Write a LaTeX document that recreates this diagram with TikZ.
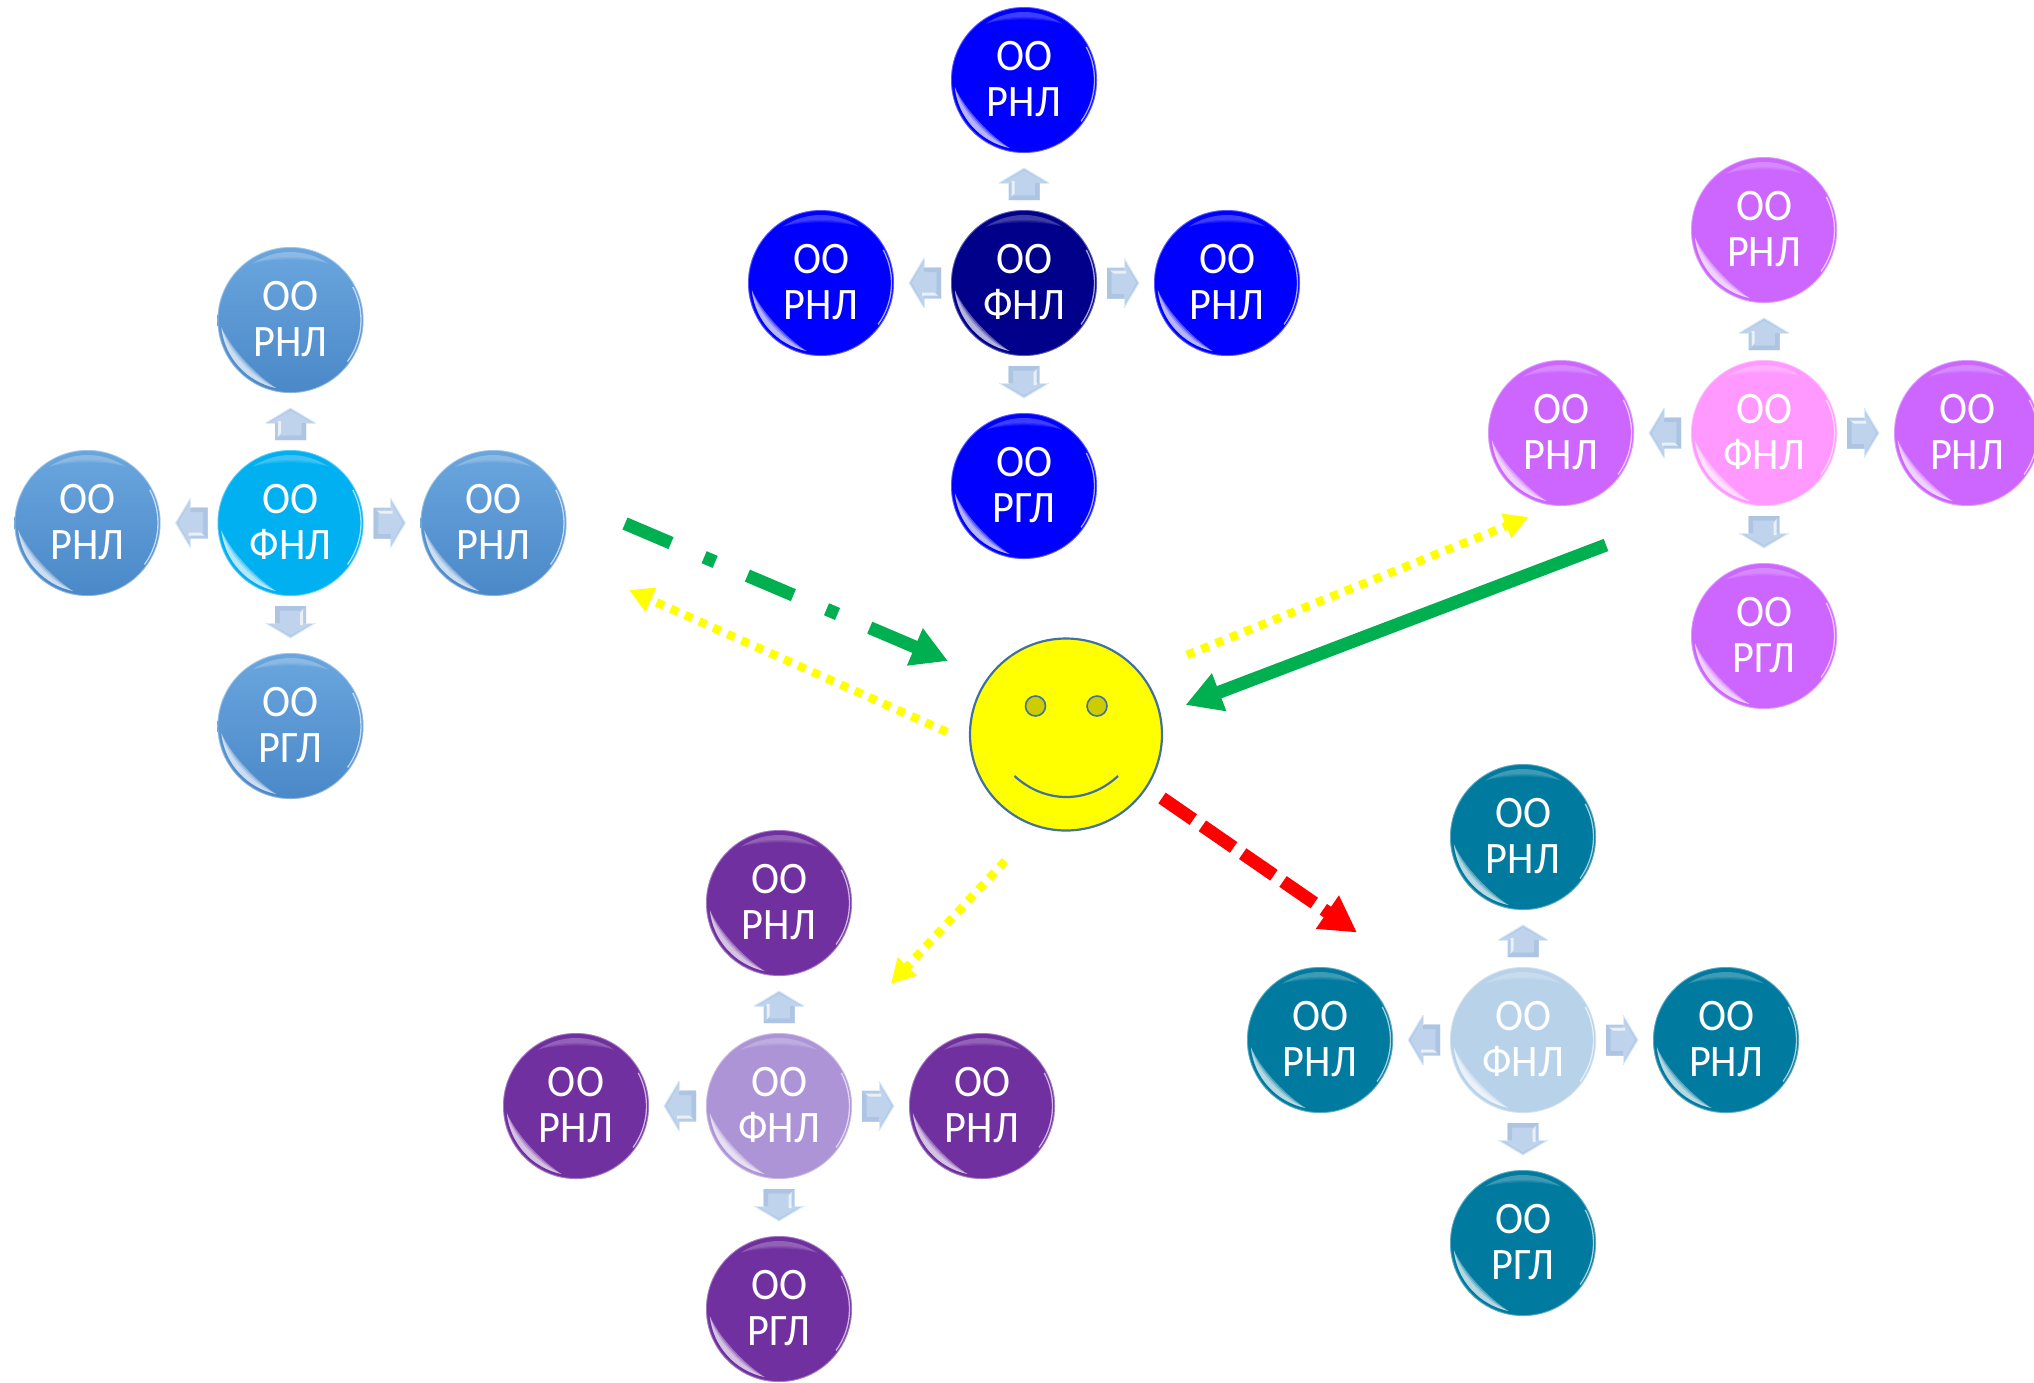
\documentclass[tikz,border=0pt]{standalone}
\usepackage{fontspec}
\setmainfont[FakeStretch=0.94]{Carlito}
\usetikzlibrary{arrows.meta,calc}
\definecolor{facel}{HTML}{41719C}
\definecolor{eyec}{HTML}{CCCC00}
\definecolor{arrowg}{HTML}{00B050}
\definecolor{arrowy}{HTML}{FFFF00}
\definecolor{arrowr}{HTML}{FF0000}
\definecolor{arrow1}{HTML}{B4CBE7}
\definecolor{arrow2}{HTML}{BFD3EC}
\definecolor{arrow3}{HTML}{ADC5E3}
\definecolor{arrowe}{HTML}{DCEBF8}
\definecolor{sta}{HTML}{6AA6DE}
\definecolor{stb}{HTML}{4A88C8}
\definecolor{cyb}{HTML}{00B0F0}
\definecolor{navyc}{HTML}{00008B}
\definecolor{pinkl}{HTML}{CC66FF}
\definecolor{pinkc}{HTML}{FF99FF}
\definecolor{purl}{HTML}{7030A0}
\definecolor{purc}{HTML}{AD94D6}
\definecolor{teall}{HTML}{007A9E}
\definecolor{tealc}{HTML}{B8D2EA}
\tikzset{
  balltext/.style={circle,minimum size=146pt,inner sep=0pt,text=white,align=center,
    font=\fontsize{45}{46}\selectfont},
  facebody/.style={circle,minimum size=192pt,inner sep=0pt,draw=facel,line width=2.2pt,fill=arrowy},
  faceeye/.style={circle,minimum size=20pt,inner sep=0pt,draw=facel,line width=1.6pt,fill=eyec},
  yellowarrow/.style={draw=arrowy,line width=8.5pt,dash pattern=on 8pt off 7.5pt,
    -{Triangle[length=24pt,width=25pt,fill=arrowy]}},
  greenarrow/.style={draw=arrowg,line width=13pt,-{Triangle[length=36pt,width=38pt,fill=arrowg]}},
  greendash/.style={greenarrow,dash pattern=on 50pt off 36pt on 12pt off 35pt},
  redarrow/.style={draw=arrowr,line width=13pt,dash pattern=on 38pt off 11pt,
    -{Triangle[length=36pt,width=38pt,fill=arrowr]}},
}
\newcommand{\gball}[5]{%
  \begin{scope}[shift={(#2,#3)},y=1pt]
    \path[#4] (0,0) circle[radius=73];
    \draw[white,opacity=.35,line width=.9pt] (0,0) circle[radius=72.6];
    \foreach \w in {10,7,4}{
      \fill[white,opacity=.09] (124:68) arc[start angle=124,end angle=56,radius=68]
        .. controls (18,{68-\w*.6}) and (-18,{68-\w*.6}) .. cycle;
    }
    \foreach \w in {65,67.5,70}{
      \fill[white,opacity=.34] (186:69.5) arc[start angle=186,end angle=258,radius=69.5]
        .. controls (240:\w) and (208:{\w+1}) .. cycle;
    }
    \draw[white,opacity=.65,line width=1.3pt] (28:70.5) arc[start angle=28,end angle=-36,radius=70.5];
  \end{scope}
  \node[balltext] (#1) at (#2,#3-1) {#5};
}
\newcommand{\barrow}[3]{%
  \begin{scope}[shift={(#1,#2)},y=1pt,rotate=#3]
    \fill[arrow1] (-15.5,83) -- (-15.5,100) -- (-25,100) -- (0,115) -- (25,100) -- (15.5,100) -- (15.5,83) -- cycle;
    \fill[arrow2] (-11,88) -- (-11,100) -- (-22,100) -- (0,112) -- (22,100) -- (11,100) -- (11,88) -- cycle;
    \fill[arrow3] (-15.5,83) -- (15.5,83) -- (15.5,100) -- (11,100) -- (11,87) -- (-11,87) -- cycle;
    \fill[white,opacity=.7] (-12.5,86) -- (-9.5,90) -- (-9.5,102) -- (-12.5,102) -- cycle;
    \draw[arrowe,line width=1pt] (-25,100) -- (0,115) -- (25,100);
    \draw[arrowe,line width=.8pt] (-25,100) -- (-15.5,100) (15.5,100) -- (25,100);
  \end{scope}
}
\newcommand{\cluster}[5]{%
  \gball{#1c}{#2}{#3}{#5}{ОО\\ФНЛ}
  \gball{#1t}{#2}{#3-203}{#4}{ОО\\РНЛ}
  \gball{#1l}{#2-203}{#3}{#4}{ОО\\РНЛ}
  \gball{#1r}{#2+203}{#3}{#4}{ОО\\РНЛ}
  \gball{#1b}{#2}{#3+203}{#4}{ОО\\РГЛ}
  \barrow{#2}{#3}{0}
  \barrow{#2}{#3}{-90}
  \barrow{#2}{#3}{180}
  \barrow{#2}{#3}{90}
}
\begin{document}
\begin{tikzpicture}[x=1pt,y=-1pt]
\path[use as bounding box] (0,0) rectangle (2034,1382);

\cluster{b}{1024}{283}{fill=blue}{fill=navyc}
\cluster{s}{290.5}{523}{top color=sta,bottom color=stb}{fill=cyb}
\cluster{k}{1764}{433}{fill=pinkl}{fill=pinkc}
\cluster{u}{779}{1106}{fill=purl}{fill=purc}
\cluster{e}{1523}{1040}{fill=teall}{fill=tealc}

\node[facebody] (face) at (1066,734.5) {};
\node[faceeye] (eyeL) at (1035.5,706) {};
\node[faceeye] (eyeR) at (1097,706) {};
\coordinate (mouthL) at (1014.5,776);
\coordinate (mouthR) at (1118,776);
\draw[facel,line width=2.2pt] (mouthL) .. controls (1045,804) and (1088,804) .. (mouthR);

\coordinate (g1a) at (625,523.5);
\coordinate (g1b) at (948,661);
\coordinate (y1a) at (947,732);
\coordinate (y1b) at (629,590);
\coordinate (y2a) at (1187,655);
\coordinate (y2b) at (1528.5,517);
\coordinate (g2a) at (1606,545);
\coordinate (g2b) at (1185.5,705);
\coordinate (r1a) at (1162,798);
\coordinate (r1b) at (1357,932.5);
\coordinate (y3a) at (1005,861);
\coordinate (y3b) at (891,984);

\draw[greendash] (g1a) -- (g1b);
\draw[yellowarrow] (y1a) -- (y1b);
\draw[yellowarrow] (y2a) -- (y2b);
\draw[greenarrow] (g2a) -- (g2b);
\draw[redarrow] (r1a) -- (r1b);
\draw[yellowarrow] (y3a) -- (y3b);
\end{tikzpicture}
\end{document}
